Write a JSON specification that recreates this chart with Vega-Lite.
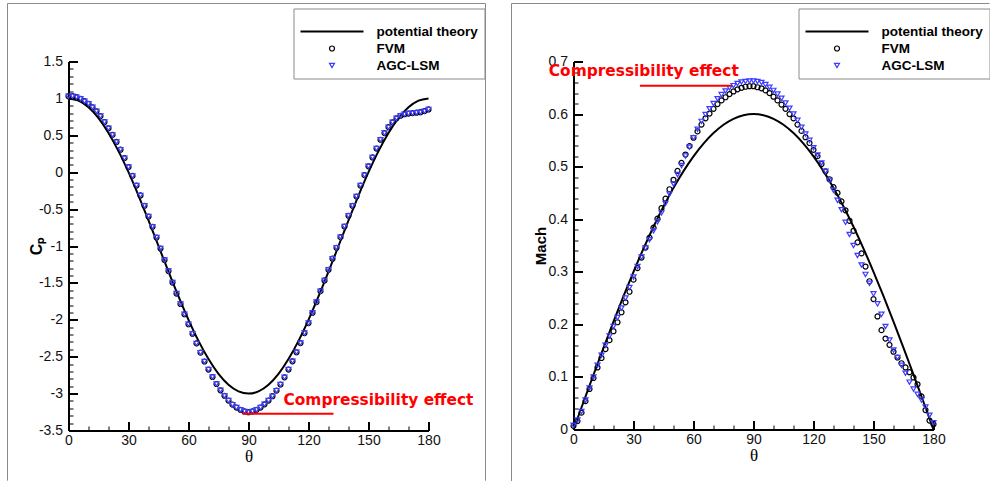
{
"$schema":"https://vega.github.io/schema/vega-lite/v6.json",
"padding":{"left":6.5,"top":2.5,"right":0,"bottom":0},
"background":"white",
"config":{"view":{"stroke":null},"axis":{"grid":false,"labelFont":"Liberation Sans","labelFontSize":14,"labelColor":"#111111","domainColor":"#000000","domainWidth":2,"tickColor":"#000000","labelFlush":false,"labelOverlap":false,"titleColor":"#000000"},
"legend":{"orient":"none","legendX":225,"legendY":-53,"titleFontSize":8,"titlePadding":2,"padding":6,"strokeColor":"#8a8a8a","fillColor":"white","cornerRadius":0,"labelFont":"Liberation Sans","labelFontWeight":"bold","labelFontSize":13.5,"labelColor":"#000000","labelOffset":37.75,"symbolOffset":25.75,"rowPadding":3,"clipHeight":14}},
"datasets":{
"cpFrame":[{"t":-30.5,"t2":208.5,"v":2.286,"v2":2.286},{"t":-30.5,"t2":-30.5,"v":2.286,"v2":-4.18},{"t":208.5,"t2":208.5,"v":2.286,"v2":-4.18}],
"cpNote":[{"t":87,"t2":132.5,"v":-3.274,"v2":-3.274}],
"cpText":[{"t":107.5,"v":-3.084,"label":"Compressibility effect"}],
"cpLine":[{"t":0,"v":1,"s":"potential theory"},{"t":5,"v":0.9696,"s":"potential theory"},{"t":10,"v":0.8794,"s":"potential theory"},{"t":15,"v":0.732,"s":"potential theory"},{"t":20,"v":0.5321,"s":"potential theory"},{"t":25,"v":0.2856,"s":"potential theory"},{"t":30,"v":0,"s":"potential theory"},{"t":35,"v":-0.316,"s":"potential theory"},{"t":40,"v":-0.6527,"s":"potential theory"},{"t":45,"v":-1,"s":"potential theory"},{"t":50,"v":-1.3473,"s":"potential theory"},{"t":55,"v":-1.684,"s":"potential theory"},{"t":60,"v":-2,"s":"potential theory"},{"t":65,"v":-2.2856,"s":"potential theory"},{"t":70,"v":-2.5321,"s":"potential theory"},{"t":75,"v":-2.732,"s":"potential theory"},{"t":80,"v":-2.8794,"s":"potential theory"},{"t":85,"v":-2.9696,"s":"potential theory"},{"t":90,"v":-3,"s":"potential theory"},{"t":95,"v":-2.9696,"s":"potential theory"},{"t":100,"v":-2.8794,"s":"potential theory"},{"t":105,"v":-2.732,"s":"potential theory"},{"t":110,"v":-2.5321,"s":"potential theory"},{"t":115,"v":-2.2856,"s":"potential theory"},{"t":120,"v":-2,"s":"potential theory"},{"t":125,"v":-1.684,"s":"potential theory"},{"t":130,"v":-1.3473,"s":"potential theory"},{"t":135,"v":-1,"s":"potential theory"},{"t":140,"v":-0.6527,"s":"potential theory"},{"t":145,"v":-0.316,"s":"potential theory"},{"t":150,"v":0,"s":"potential theory"},{"t":155,"v":0.2856,"s":"potential theory"},{"t":160,"v":0.5321,"s":"potential theory"},{"t":165,"v":0.732,"s":"potential theory"},{"t":170,"v":0.8794,"s":"potential theory"},{"t":175,"v":0.9696,"s":"potential theory"},{"t":180,"v":1,"s":"potential theory"}],
"cpPts":[
{"t":0,"v":1.03,"s":"FVM"},{"t":2,"v":1.03,"s":"FVM"},{"t":4,"v":1.016,"s":"FVM"},{"t":6,"v":0.994,"s":"FVM"},{"t":8,"v":0.962,"s":"FVM"},{"t":10,"v":0.927,"s":"FVM"},{"t":12,"v":0.88,"s":"FVM"},{"t":14,"v":0.825,"s":"FVM"},{"t":16,"v":0.76,"s":"FVM"},{"t":18,"v":0.68,"s":"FVM"},{"t":20,"v":0.595,"s":"FVM"},{"t":22,"v":0.505,"s":"FVM"},{"t":24,"v":0.41,"s":"FVM"},{"t":26,"v":0.305,"s":"FVM"},{"t":28,"v":0.19,"s":"FVM"},{"t":30,"v":0.07,"s":"FVM"},{"t":32,"v":-0.05,"s":"FVM"},{"t":34,"v":-0.18,"s":"FVM"},{"t":36,"v":-0.315,"s":"FVM"},{"t":38,"v":-0.455,"s":"FVM"},{"t":40,"v":-0.6,"s":"FVM"},{"t":42,"v":-0.74,"s":"FVM"},{"t":44,"v":-0.885,"s":"FVM"},{"t":46,"v":-1.035,"s":"FVM"},{"t":48,"v":-1.19,"s":"FVM"},{"t":50,"v":-1.34,"s":"FVM"},{"t":52,"v":-1.495,"s":"FVM"},{"t":54,"v":-1.645,"s":"FVM"},{"t":56,"v":-1.785,"s":"FVM"},{"t":58,"v":-1.925,"s":"FVM"},{"t":60,"v":-2.06,"s":"FVM"},{"t":62,"v":-2.19,"s":"FVM"},{"t":64,"v":-2.32,"s":"FVM"},{"t":66,"v":-2.445,"s":"FVM"},{"t":68,"v":-2.565,"s":"FVM"},{"t":70,"v":-2.675,"s":"FVM"},{"t":72,"v":-2.775,"s":"FVM"},{"t":74,"v":-2.87,"s":"FVM"},{"t":76,"v":-2.955,"s":"FVM"},{"t":78,"v":-3.03,"s":"FVM"},{"t":80,"v":-3.095,"s":"FVM"},{"t":82,"v":-3.15,"s":"FVM"},{"t":84,"v":-3.19,"s":"FVM"},{"t":86,"v":-3.22,"s":"FVM"},{"t":88,"v":-3.242,"s":"FVM"},{"t":90,"v":-3.252,"s":"FVM"},{"t":92,"v":-3.242,"s":"FVM"},{"t":94,"v":-3.22,"s":"FVM"},{"t":96,"v":-3.19,"s":"FVM"},{"t":98,"v":-3.145,"s":"FVM"},{"t":100,"v":-3.095,"s":"FVM"},{"t":102,"v":-3.035,"s":"FVM"},{"t":104,"v":-2.96,"s":"FVM"},{"t":106,"v":-2.877,"s":"FVM"},{"t":108,"v":-2.78,"s":"FVM"},{"t":110,"v":-2.675,"s":"FVM"},{"t":112,"v":-2.562,"s":"FVM"},{"t":114,"v":-2.44,"s":"FVM"},{"t":116,"v":-2.315,"s":"FVM"},{"t":118,"v":-2.18,"s":"FVM"},{"t":120,"v":-2.045,"s":"FVM"},{"t":122,"v":-1.905,"s":"FVM"},{"t":124,"v":-1.76,"s":"FVM"},{"t":126,"v":-1.612,"s":"FVM"},{"t":128,"v":-1.467,"s":"FVM"},{"t":130,"v":-1.322,"s":"FVM"},{"t":132,"v":-1.172,"s":"FVM"},{"t":134,"v":-1.024,"s":"FVM"},{"t":136,"v":-0.88,"s":"FVM"},{"t":138,"v":-0.736,"s":"FVM"},{"t":140,"v":-0.59,"s":"FVM"},{"t":142,"v":-0.455,"s":"FVM"},{"t":144,"v":-0.33,"s":"FVM"},{"t":146,"v":-0.18,"s":"FVM"},{"t":148,"v":-0.04,"s":"FVM"},{"t":150,"v":0.08,"s":"FVM"},{"t":152,"v":0.2,"s":"FVM"},{"t":154,"v":0.32,"s":"FVM"},{"t":156,"v":0.44,"s":"FVM"},{"t":158,"v":0.53,"s":"FVM"},{"t":160,"v":0.61,"s":"FVM"},{"t":162,"v":0.675,"s":"FVM"},{"t":164,"v":0.73,"s":"FVM"},{"t":166,"v":0.765,"s":"FVM"},{"t":168,"v":0.785,"s":"FVM"},{"t":170,"v":0.795,"s":"FVM"},{"t":172,"v":0.8,"s":"FVM"},{"t":174,"v":0.806,"s":"FVM"},{"t":176,"v":0.813,"s":"FVM"},{"t":178,"v":0.827,"s":"FVM"},{"t":180,"v":0.85,"s":"FVM"},
{"t":0,"v":1.03,"s":"AGC-LSM"},{"t":2,"v":1.03,"s":"AGC-LSM"},{"t":4,"v":1.016,"s":"AGC-LSM"},{"t":6,"v":0.994,"s":"AGC-LSM"},{"t":8,"v":0.962,"s":"AGC-LSM"},{"t":10,"v":0.927,"s":"AGC-LSM"},{"t":12,"v":0.88,"s":"AGC-LSM"},{"t":14,"v":0.825,"s":"AGC-LSM"},{"t":16,"v":0.76,"s":"AGC-LSM"},{"t":18,"v":0.68,"s":"AGC-LSM"},{"t":20,"v":0.595,"s":"AGC-LSM"},{"t":22,"v":0.505,"s":"AGC-LSM"},{"t":24,"v":0.41,"s":"AGC-LSM"},{"t":26,"v":0.305,"s":"AGC-LSM"},{"t":28,"v":0.19,"s":"AGC-LSM"},{"t":30,"v":0.07,"s":"AGC-LSM"},{"t":32,"v":-0.05,"s":"AGC-LSM"},{"t":34,"v":-0.18,"s":"AGC-LSM"},{"t":36,"v":-0.315,"s":"AGC-LSM"},{"t":38,"v":-0.455,"s":"AGC-LSM"},{"t":40,"v":-0.6,"s":"AGC-LSM"},{"t":42,"v":-0.74,"s":"AGC-LSM"},{"t":44,"v":-0.885,"s":"AGC-LSM"},{"t":46,"v":-1.035,"s":"AGC-LSM"},{"t":48,"v":-1.19,"s":"AGC-LSM"},{"t":50,"v":-1.34,"s":"AGC-LSM"},{"t":52,"v":-1.495,"s":"AGC-LSM"},{"t":54,"v":-1.645,"s":"AGC-LSM"},{"t":56,"v":-1.785,"s":"AGC-LSM"},{"t":58,"v":-1.925,"s":"AGC-LSM"},{"t":60,"v":-2.06,"s":"AGC-LSM"},{"t":62,"v":-2.19,"s":"AGC-LSM"},{"t":64,"v":-2.32,"s":"AGC-LSM"},{"t":66,"v":-2.445,"s":"AGC-LSM"},{"t":68,"v":-2.565,"s":"AGC-LSM"},{"t":70,"v":-2.675,"s":"AGC-LSM"},{"t":72,"v":-2.775,"s":"AGC-LSM"},{"t":74,"v":-2.87,"s":"AGC-LSM"},{"t":76,"v":-2.955,"s":"AGC-LSM"},{"t":78,"v":-3.03,"s":"AGC-LSM"},{"t":80,"v":-3.095,"s":"AGC-LSM"},{"t":82,"v":-3.15,"s":"AGC-LSM"},{"t":84,"v":-3.19,"s":"AGC-LSM"},{"t":86,"v":-3.22,"s":"AGC-LSM"},{"t":88,"v":-3.242,"s":"AGC-LSM"},{"t":90,"v":-3.252,"s":"AGC-LSM"},{"t":92,"v":-3.242,"s":"AGC-LSM"},{"t":94,"v":-3.22,"s":"AGC-LSM"},{"t":96,"v":-3.19,"s":"AGC-LSM"},{"t":98,"v":-3.145,"s":"AGC-LSM"},{"t":100,"v":-3.095,"s":"AGC-LSM"},{"t":102,"v":-3.035,"s":"AGC-LSM"},{"t":104,"v":-2.96,"s":"AGC-LSM"},{"t":106,"v":-2.877,"s":"AGC-LSM"},{"t":108,"v":-2.78,"s":"AGC-LSM"},{"t":110,"v":-2.675,"s":"AGC-LSM"},{"t":112,"v":-2.562,"s":"AGC-LSM"},{"t":114,"v":-2.44,"s":"AGC-LSM"},{"t":116,"v":-2.315,"s":"AGC-LSM"},{"t":118,"v":-2.18,"s":"AGC-LSM"},{"t":120,"v":-2.045,"s":"AGC-LSM"},{"t":122,"v":-1.905,"s":"AGC-LSM"},{"t":124,"v":-1.76,"s":"AGC-LSM"},{"t":126,"v":-1.612,"s":"AGC-LSM"},{"t":128,"v":-1.467,"s":"AGC-LSM"},{"t":130,"v":-1.322,"s":"AGC-LSM"},{"t":132,"v":-1.172,"s":"AGC-LSM"},{"t":134,"v":-1.024,"s":"AGC-LSM"},{"t":136,"v":-0.88,"s":"AGC-LSM"},{"t":138,"v":-0.736,"s":"AGC-LSM"},{"t":140,"v":-0.59,"s":"AGC-LSM"},{"t":142,"v":-0.455,"s":"AGC-LSM"},{"t":144,"v":-0.33,"s":"AGC-LSM"},{"t":146,"v":-0.18,"s":"AGC-LSM"},{"t":148,"v":-0.04,"s":"AGC-LSM"},{"t":150,"v":0.08,"s":"AGC-LSM"},{"t":152,"v":0.2,"s":"AGC-LSM"},{"t":154,"v":0.32,"s":"AGC-LSM"},{"t":156,"v":0.44,"s":"AGC-LSM"},{"t":158,"v":0.53,"s":"AGC-LSM"},{"t":160,"v":0.61,"s":"AGC-LSM"},{"t":162,"v":0.675,"s":"AGC-LSM"},{"t":164,"v":0.73,"s":"AGC-LSM"},{"t":166,"v":0.765,"s":"AGC-LSM"},{"t":168,"v":0.785,"s":"AGC-LSM"},{"t":170,"v":0.795,"s":"AGC-LSM"},{"t":172,"v":0.8,"s":"AGC-LSM"},{"t":174,"v":0.806,"s":"AGC-LSM"},{"t":176,"v":0.813,"s":"AGC-LSM"},{"t":178,"v":0.827,"s":"AGC-LSM"},{"t":180,"v":0.85,"s":"AGC-LSM"}],
"mFrame":[{"t":-31,"t2":208,"v":0.8103,"v2":0.8103},{"t":-31,"t2":-31,"v":0.8103,"v2":-0.098}],
"mNote":[{"t":33.2,"t2":78.8,"v":0.654,"v2":0.654}],
"mText":[{"t":-12.35,"v":0.681,"label":"Compressibility effect"}],
"mLine":[{"t":0,"v":0,"s":"potential theory"},{"t":5,"v":0.0523,"s":"potential theory"},{"t":10,"v":0.1042,"s":"potential theory"},{"t":15,"v":0.1553,"s":"potential theory"},{"t":20,"v":0.2052,"s":"potential theory"},{"t":25,"v":0.2536,"s":"potential theory"},{"t":30,"v":0.3,"s":"potential theory"},{"t":35,"v":0.3441,"s":"potential theory"},{"t":40,"v":0.3857,"s":"potential theory"},{"t":45,"v":0.4243,"s":"potential theory"},{"t":50,"v":0.4596,"s":"potential theory"},{"t":55,"v":0.4915,"s":"potential theory"},{"t":60,"v":0.5196,"s":"potential theory"},{"t":65,"v":0.5438,"s":"potential theory"},{"t":70,"v":0.5638,"s":"potential theory"},{"t":75,"v":0.5796,"s":"potential theory"},{"t":80,"v":0.5909,"s":"potential theory"},{"t":85,"v":0.5977,"s":"potential theory"},{"t":90,"v":0.6,"s":"potential theory"},{"t":95,"v":0.5977,"s":"potential theory"},{"t":100,"v":0.5909,"s":"potential theory"},{"t":105,"v":0.5796,"s":"potential theory"},{"t":110,"v":0.5638,"s":"potential theory"},{"t":115,"v":0.5438,"s":"potential theory"},{"t":120,"v":0.5196,"s":"potential theory"},{"t":125,"v":0.4915,"s":"potential theory"},{"t":130,"v":0.4596,"s":"potential theory"},{"t":135,"v":0.4243,"s":"potential theory"},{"t":140,"v":0.3857,"s":"potential theory"},{"t":145,"v":0.3441,"s":"potential theory"},{"t":150,"v":0.3,"s":"potential theory"},{"t":155,"v":0.2536,"s":"potential theory"},{"t":160,"v":0.2052,"s":"potential theory"},{"t":165,"v":0.1553,"s":"potential theory"},{"t":170,"v":0.1042,"s":"potential theory"},{"t":175,"v":0.0523,"s":"potential theory"},{"t":180,"v":0,"s":"potential theory"}],
"mPts":[
{"t":0,"v":0.007,"s":"FVM"},{"t":2,"v":0.016,"s":"FVM"},{"t":4,"v":0.032,"s":"FVM"},{"t":6,"v":0.054,"s":"FVM"},{"t":8,"v":0.077,"s":"FVM"},{"t":10,"v":0.098,"s":"FVM"},{"t":12,"v":0.118,"s":"FVM"},{"t":14,"v":0.136,"s":"FVM"},{"t":16,"v":0.153,"s":"FVM"},{"t":18,"v":0.17,"s":"FVM"},{"t":20,"v":0.187,"s":"FVM"},{"t":22,"v":0.204,"s":"FVM"},{"t":24,"v":0.223,"s":"FVM"},{"t":26,"v":0.242,"s":"FVM"},{"t":28,"v":0.262,"s":"FVM"},{"t":30,"v":0.285,"s":"FVM"},{"t":32,"v":0.307,"s":"FVM"},{"t":34,"v":0.327,"s":"FVM"},{"t":36,"v":0.346,"s":"FVM"},{"t":38,"v":0.365,"s":"FVM"},{"t":40,"v":0.384,"s":"FVM"},{"t":42,"v":0.401,"s":"FVM"},{"t":44,"v":0.421,"s":"FVM"},{"t":46,"v":0.439,"s":"FVM"},{"t":48,"v":0.457,"s":"FVM"},{"t":50,"v":0.475,"s":"FVM"},{"t":52,"v":0.492,"s":"FVM"},{"t":54,"v":0.507,"s":"FVM"},{"t":56,"v":0.523,"s":"FVM"},{"t":58,"v":0.539,"s":"FVM"},{"t":60,"v":0.555,"s":"FVM"},{"t":62,"v":0.567,"s":"FVM"},{"t":64,"v":0.58,"s":"FVM"},{"t":66,"v":0.592,"s":"FVM"},{"t":68,"v":0.601,"s":"FVM"},{"t":70,"v":0.61,"s":"FVM"},{"t":72,"v":0.619,"s":"FVM"},{"t":74,"v":0.626,"s":"FVM"},{"t":76,"v":0.632,"s":"FVM"},{"t":78,"v":0.638,"s":"FVM"},{"t":80,"v":0.643,"s":"FVM"},{"t":82,"v":0.647,"s":"FVM"},{"t":84,"v":0.65,"s":"FVM"},{"t":86,"v":0.652,"s":"FVM"},{"t":88,"v":0.653,"s":"FVM"},{"t":90,"v":0.653,"s":"FVM"},{"t":92,"v":0.651,"s":"FVM"},{"t":94,"v":0.649,"s":"FVM"},{"t":96,"v":0.645,"s":"FVM"},{"t":98,"v":0.64,"s":"FVM"},{"t":100,"v":0.633,"s":"FVM"},{"t":102,"v":0.626,"s":"FVM"},{"t":104,"v":0.618,"s":"FVM"},{"t":106,"v":0.61,"s":"FVM"},{"t":108,"v":0.6,"s":"FVM"},{"t":110,"v":0.592,"s":"FVM"},{"t":112,"v":0.58,"s":"FVM"},{"t":114,"v":0.568,"s":"FVM"},{"t":116,"v":0.556,"s":"FVM"},{"t":118,"v":0.545,"s":"FVM"},{"t":120,"v":0.532,"s":"FVM"},{"t":122,"v":0.52,"s":"FVM"},{"t":124,"v":0.505,"s":"FVM"},{"t":126,"v":0.491,"s":"FVM"},{"t":128,"v":0.476,"s":"FVM"},{"t":130,"v":0.461,"s":"FVM"},{"t":132,"v":0.45,"s":"FVM"},{"t":134,"v":0.434,"s":"FVM"},{"t":136,"v":0.417,"s":"FVM"},{"t":138,"v":0.397,"s":"FVM"},{"t":140,"v":0.378,"s":"FVM"},{"t":142,"v":0.356,"s":"FVM"},{"t":144,"v":0.335,"s":"FVM"},{"t":146,"v":0.31,"s":"FVM"},{"t":148,"v":0.282,"s":"FVM"},{"t":150,"v":0.248,"s":"FVM"},{"t":152,"v":0.215,"s":"FVM"},{"t":154,"v":0.189,"s":"FVM"},{"t":156,"v":0.173,"s":"FVM"},{"t":158,"v":0.161,"s":"FVM"},{"t":160,"v":0.148,"s":"FVM"},{"t":162,"v":0.137,"s":"FVM"},{"t":164,"v":0.126,"s":"FVM"},{"t":166,"v":0.118,"s":"FVM"},{"t":168,"v":0.109,"s":"FVM"},{"t":170,"v":0.099,"s":"FVM"},{"t":172,"v":0.086,"s":"FVM"},{"t":174,"v":0.063,"s":"FVM"},{"t":176,"v":0.037,"s":"FVM"},{"t":178,"v":0.017,"s":"FVM"},{"t":180,"v":0.01,"s":"FVM"},
{"t":0,"v":0.008,"s":"AGC-LSM"},{"t":2,"v":0.018,"s":"AGC-LSM"},{"t":4,"v":0.034,"s":"AGC-LSM"},{"t":6,"v":0.056,"s":"AGC-LSM"},{"t":8,"v":0.079,"s":"AGC-LSM"},{"t":10,"v":0.1,"s":"AGC-LSM"},{"t":12,"v":0.122,"s":"AGC-LSM"},{"t":14,"v":0.141,"s":"AGC-LSM"},{"t":16,"v":0.16,"s":"AGC-LSM"},{"t":18,"v":0.178,"s":"AGC-LSM"},{"t":20,"v":0.196,"s":"AGC-LSM"},{"t":22,"v":0.213,"s":"AGC-LSM"},{"t":24,"v":0.231,"s":"AGC-LSM"},{"t":26,"v":0.25,"s":"AGC-LSM"},{"t":28,"v":0.27,"s":"AGC-LSM"},{"t":30,"v":0.29,"s":"AGC-LSM"},{"t":32,"v":0.31,"s":"AGC-LSM"},{"t":34,"v":0.328,"s":"AGC-LSM"},{"t":36,"v":0.345,"s":"AGC-LSM"},{"t":38,"v":0.361,"s":"AGC-LSM"},{"t":40,"v":0.378,"s":"AGC-LSM"},{"t":42,"v":0.395,"s":"AGC-LSM"},{"t":44,"v":0.412,"s":"AGC-LSM"},{"t":46,"v":0.43,"s":"AGC-LSM"},{"t":48,"v":0.448,"s":"AGC-LSM"},{"t":50,"v":0.467,"s":"AGC-LSM"},{"t":52,"v":0.485,"s":"AGC-LSM"},{"t":54,"v":0.502,"s":"AGC-LSM"},{"t":56,"v":0.52,"s":"AGC-LSM"},{"t":58,"v":0.537,"s":"AGC-LSM"},{"t":60,"v":0.555,"s":"AGC-LSM"},{"t":62,"v":0.571,"s":"AGC-LSM"},{"t":64,"v":0.586,"s":"AGC-LSM"},{"t":66,"v":0.599,"s":"AGC-LSM"},{"t":68,"v":0.61,"s":"AGC-LSM"},{"t":70,"v":0.62,"s":"AGC-LSM"},{"t":72,"v":0.629,"s":"AGC-LSM"},{"t":74,"v":0.637,"s":"AGC-LSM"},{"t":76,"v":0.644,"s":"AGC-LSM"},{"t":78,"v":0.65,"s":"AGC-LSM"},{"t":80,"v":0.654,"s":"AGC-LSM"},{"t":82,"v":0.658,"s":"AGC-LSM"},{"t":84,"v":0.661,"s":"AGC-LSM"},{"t":86,"v":0.662,"s":"AGC-LSM"},{"t":88,"v":0.663,"s":"AGC-LSM"},{"t":90,"v":0.663,"s":"AGC-LSM"},{"t":92,"v":0.662,"s":"AGC-LSM"},{"t":94,"v":0.66,"s":"AGC-LSM"},{"t":96,"v":0.656,"s":"AGC-LSM"},{"t":98,"v":0.651,"s":"AGC-LSM"},{"t":100,"v":0.645,"s":"AGC-LSM"},{"t":102,"v":0.638,"s":"AGC-LSM"},{"t":104,"v":0.63,"s":"AGC-LSM"},{"t":106,"v":0.621,"s":"AGC-LSM"},{"t":108,"v":0.611,"s":"AGC-LSM"},{"t":110,"v":0.6,"s":"AGC-LSM"},{"t":112,"v":0.588,"s":"AGC-LSM"},{"t":114,"v":0.575,"s":"AGC-LSM"},{"t":116,"v":0.562,"s":"AGC-LSM"},{"t":118,"v":0.55,"s":"AGC-LSM"},{"t":120,"v":0.536,"s":"AGC-LSM"},{"t":122,"v":0.522,"s":"AGC-LSM"},{"t":124,"v":0.507,"s":"AGC-LSM"},{"t":126,"v":0.491,"s":"AGC-LSM"},{"t":128,"v":0.474,"s":"AGC-LSM"},{"t":130,"v":0.455,"s":"AGC-LSM"},{"t":132,"v":0.436,"s":"AGC-LSM"},{"t":134,"v":0.418,"s":"AGC-LSM"},{"t":136,"v":0.394,"s":"AGC-LSM"},{"t":138,"v":0.371,"s":"AGC-LSM"},{"t":140,"v":0.35,"s":"AGC-LSM"},{"t":142,"v":0.331,"s":"AGC-LSM"},{"t":144,"v":0.313,"s":"AGC-LSM"},{"t":146,"v":0.295,"s":"AGC-LSM"},{"t":148,"v":0.278,"s":"AGC-LSM"},{"t":150,"v":0.258,"s":"AGC-LSM"},{"t":152,"v":0.239,"s":"AGC-LSM"},{"t":154,"v":0.219,"s":"AGC-LSM"},{"t":156,"v":0.196,"s":"AGC-LSM"},{"t":158,"v":0.17,"s":"AGC-LSM"},{"t":160,"v":0.151,"s":"AGC-LSM"},{"t":162,"v":0.137,"s":"AGC-LSM"},{"t":164,"v":0.122,"s":"AGC-LSM"},{"t":166,"v":0.107,"s":"AGC-LSM"},{"t":168,"v":0.09,"s":"AGC-LSM"},{"t":170,"v":0.077,"s":"AGC-LSM"},{"t":172,"v":0.067,"s":"AGC-LSM"},{"t":174,"v":0.056,"s":"AGC-LSM"},{"t":176,"v":0.043,"s":"AGC-LSM"},{"t":178,"v":0.027,"s":"AGC-LSM"},{"t":180,"v":0.013,"s":"AGC-LSM"}]
},
"spacing":145,
"bounds":"flush",
"resolve":{"scale":{"color":"independent","shape":"independent"}},
"hconcat":[
{
"width":360,"height":369,
"encoding":{
"x":{"field":"t","type":"quantitative","scale":{"domain":[0,180],"nice":false,"zero":false},
"axis":{"values":[0,10,20,30,40,50,60,70,80,90,100,110,120,130,140,150,160,170,180],"labelExpr":"datum.value % 30 === 0 ? '' + datum.value : ''","tickSize":{"condition":{"test":"datum.value % 30 === 0","value":-9},"value":-4.5},"tickWidth":{"condition":{"test":"datum.value % 30 === 0","value":2},"value":1},"labelPadding":12,"title":"θ","titleFont":"Liberation Serif","titleFontSize":17,"titleFontWeight":"normal","titleX":180,"titleY":26,"titleBaseline":"middle","titleAlign":"center"}},
"y":{"field":"v","type":"quantitative","scale":{"domain":[-3.5,1.5],"nice":false,"zero":false},
"axis":{"values":[-3.5,-3.4,-3.3,-3.2,-3.1,-3,-2.9,-2.8,-2.7,-2.6,-2.5,-2.4,-2.3,-2.2,-2.1,-2,-1.9,-1.8,-1.7,-1.6,-1.5,-1.4,-1.3,-1.2,-1.1,-1,-0.9,-0.8,-0.7,-0.6,-0.5,-0.4,-0.3,-0.2,-0.1,0,0.1,0.2,0.3,0.4,0.5,0.6,0.7,0.8,0.9,1,1.1,1.2,1.3,1.4,1.5],"labelExpr":"abs(datum.value*2-round(datum.value*2))<1e-6 ? '' + datum.value : ''","tickSize":{"condition":{"test":"abs(datum.value*2-round(datum.value*2))<1e-6","value":-9},"value":-4.5},"tickWidth":{"condition":{"test":"abs(datum.value*2-round(datum.value*2))<1e-6","value":2},"value":1},"labelPadding":15,"title":"Cₚ","titleFont":"Liberation Sans","titleFontSize":16,"titleFontWeight":"bold","titleAngle":-90,"titleX":-32,"titleY":184.5,"titleBaseline":"middle","titleAlign":"center"}}
},
"layer":[
{"data":{"name":"cpFrame"},"mark":{"type":"rule","stroke":"#8a8a8a","strokeWidth":1},"encoding":{"x2":{"field":"t2"},"y2":{"field":"v2"}}},
{"data":{"name":"cpLine"},"mark":{"type":"line","interpolate":"monotone","strokeWidth":2},
"encoding":{"color":{"field":"s","type":"nominal","scale":{"domain":["potential theory","FVM","AGC-LSM"],"range":["#000000","#000000","#3c3cff"]},
"legend":{"title":" ","encode":{"symbols":{"update":{"size":{"signal":"datum.value === 'potential theory' ? 3969 : 25"},"strokeWidth":{"signal":"datum.value === 'potential theory' ? 2 : 1.2"},"stroke":{"signal":"datum.value === 'AGC-LSM' ? '#3c3cff' : '#000000'"},"fill":{"value":"transparent"},"opacity":{"value":1}}}}}}}},
{"data":{"name":"cpPts"},"mark":{"type":"point","filled":false,"size":25,"strokeWidth":1.2,"opacity":1},
"encoding":{"color":{"field":"s","type":"nominal","scale":{"domain":["potential theory","FVM","AGC-LSM"],"range":["#000000","#000000","#3c3cff"]},
"legend":{"title":" ","encode":{"symbols":{"update":{"size":{"signal":"datum.value === 'potential theory' ? 3969 : 25"},"strokeWidth":{"signal":"datum.value === 'potential theory' ? 2 : 1.2"},"stroke":{"signal":"datum.value === 'AGC-LSM' ? '#3c3cff' : '#000000'"},"fill":{"value":"transparent"},"opacity":{"value":1}}}}}},
"shape":{"field":"s","type":"nominal","scale":{"domain":["potential theory","FVM","AGC-LSM"],"range":["stroke","circle","triangle-down"]},
"legend":{"title":" ","encode":{"symbols":{"update":{"size":{"signal":"datum.value === 'potential theory' ? 3969 : 25"},"strokeWidth":{"signal":"datum.value === 'potential theory' ? 2 : 1.2"},"stroke":{"signal":"datum.value === 'AGC-LSM' ? '#3c3cff' : '#000000'"},"fill":{"value":"transparent"},"opacity":{"value":1}}}}}}}},
{"data":{"name":"cpNote"},"mark":{"type":"rule","stroke":"#ff0000","strokeWidth":2},"encoding":{"x2":{"field":"t2"},"y2":{"field":"v2"}}},
{"data":{"name":"cpText"},"mark":{"type":"text","align":"left","baseline":"middle","font":"DejaVu Sans","fontWeight":"bold","fontSize":15.4,"color":"#ff0000"},"encoding":{"text":{"field":"label"}}}
]
},
{
"width":360,"height":368,
"encoding":{
"x":{"field":"t","type":"quantitative","scale":{"domain":[0,180],"nice":false,"zero":false},
"axis":{"values":[0,10,20,30,40,50,60,70,80,90,100,110,120,130,140,150,160,170,180],"labelExpr":"datum.value % 30 === 0 ? '' + datum.value : ''","tickSize":{"condition":{"test":"datum.value % 30 === 0","value":-9},"value":-4.5},"tickWidth":{"condition":{"test":"datum.value % 30 === 0","value":2},"value":1},"labelPadding":12,"title":"θ","titleFont":"Liberation Serif","titleFontSize":17,"titleFontWeight":"normal","titleX":180,"titleY":26,"titleBaseline":"middle","titleAlign":"center"}},
"y":{"field":"v","type":"quantitative","scale":{"domain":[0,0.7],"nice":false,"zero":false},
"axis":{"values":[0,0.02,0.04,0.06,0.08,0.1,0.12,0.14,0.16,0.18,0.2,0.22,0.24,0.26,0.28,0.3,0.32,0.34,0.36,0.38,0.4,0.42,0.44,0.46,0.48,0.5,0.52,0.54,0.56,0.58,0.6,0.62,0.64,0.66,0.68,0.7],"labelExpr":"abs(datum.value*10-round(datum.value*10))<1e-6 ? '' + datum.value : ''","tickSize":{"condition":{"test":"abs(datum.value*10-round(datum.value*10))<1e-6","value":-9},"value":-4.5},"tickWidth":{"condition":{"test":"abs(datum.value*10-round(datum.value*10))<1e-6","value":2},"value":1},"labelPadding":15,"title":"Mach","titleFont":"Liberation Sans","titleFontSize":15,"titleFontWeight":"bold","titleAngle":-90,"titleX":-33,"titleY":184,"titleBaseline":"middle","titleAlign":"center"}}
},
"layer":[
{"data":{"name":"mFrame"},"mark":{"type":"rule","stroke":"#8a8a8a","strokeWidth":1},"encoding":{"x2":{"field":"t2"},"y2":{"field":"v2"}}},
{"data":{"name":"mLine"},"mark":{"type":"line","interpolate":"monotone","strokeWidth":2},
"encoding":{"color":{"field":"s","type":"nominal","scale":{"domain":["potential theory","FVM","AGC-LSM"],"range":["#000000","#000000","#3c3cff"]},
"legend":{"title":" ","encode":{"symbols":{"update":{"size":{"signal":"datum.value === 'potential theory' ? 3969 : 25"},"strokeWidth":{"signal":"datum.value === 'potential theory' ? 2 : 1.2"},"stroke":{"signal":"datum.value === 'AGC-LSM' ? '#3c3cff' : '#000000'"},"fill":{"value":"transparent"},"opacity":{"value":1}}}}}}}},
{"data":{"name":"mPts"},"mark":{"type":"point","filled":false,"size":25,"strokeWidth":1.2,"opacity":1},
"encoding":{"color":{"field":"s","type":"nominal","scale":{"domain":["potential theory","FVM","AGC-LSM"],"range":["#000000","#000000","#3c3cff"]},
"legend":{"title":" ","encode":{"symbols":{"update":{"size":{"signal":"datum.value === 'potential theory' ? 3969 : 25"},"strokeWidth":{"signal":"datum.value === 'potential theory' ? 2 : 1.2"},"stroke":{"signal":"datum.value === 'AGC-LSM' ? '#3c3cff' : '#000000'"},"fill":{"value":"transparent"},"opacity":{"value":1}}}}}},
"shape":{"field":"s","type":"nominal","scale":{"domain":["potential theory","FVM","AGC-LSM"],"range":["stroke","circle","triangle-down"]},
"legend":{"title":" ","encode":{"symbols":{"update":{"size":{"signal":"datum.value === 'potential theory' ? 3969 : 25"},"strokeWidth":{"signal":"datum.value === 'potential theory' ? 2 : 1.2"},"stroke":{"signal":"datum.value === 'AGC-LSM' ? '#3c3cff' : '#000000'"},"fill":{"value":"transparent"},"opacity":{"value":1}}}}}}}},
{"data":{"name":"mNote"},"mark":{"type":"rule","stroke":"#ff0000","strokeWidth":2},"encoding":{"x2":{"field":"t2"},"y2":{"field":"v2"}}},
{"data":{"name":"mText"},"mark":{"type":"text","align":"left","baseline":"middle","font":"DejaVu Sans","fontWeight":"bold","fontSize":15.4,"color":"#ff0000"},"encoding":{"text":{"field":"label"}}}
]
}
]
}
